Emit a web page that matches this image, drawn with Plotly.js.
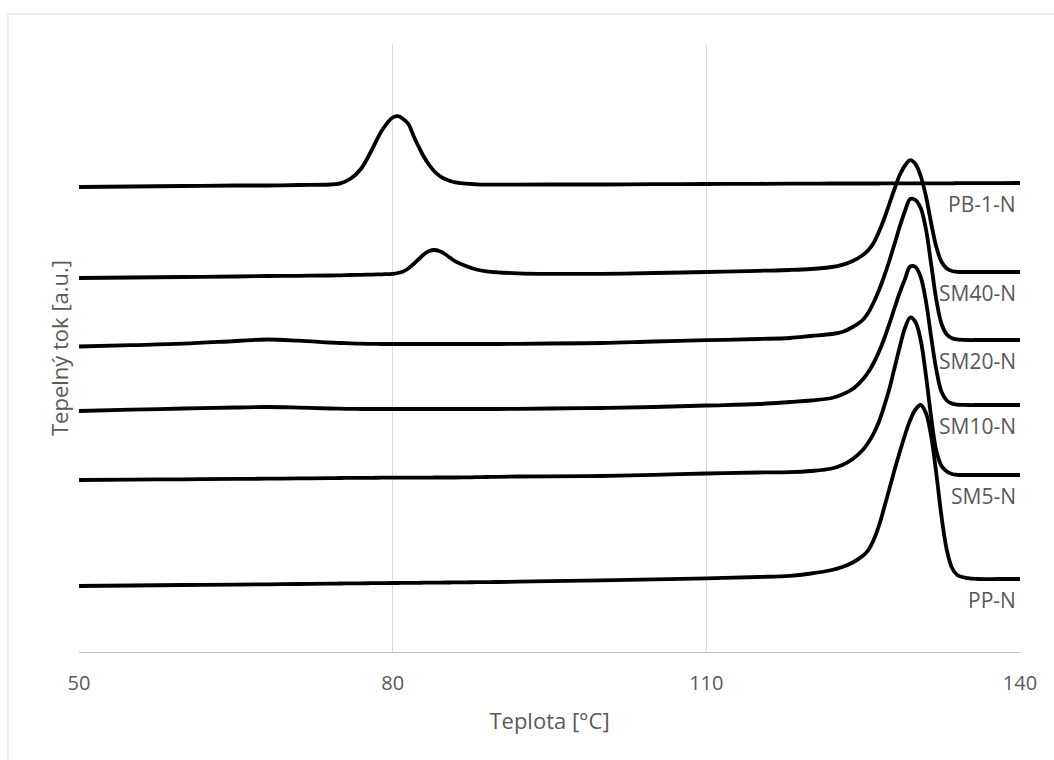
<!DOCTYPE html>
<html>
<head>
<meta charset="utf-8">
<script src="https://cdn.plot.ly/plotly-3.0.1.min.js"></script>
<style>
  html, body { margin: 0; padding: 0; background: #ffffff; }
  #chart { width: 1054px; height: 760px; }
</style>
</head>
<body>
<div id="chart"></div>
<script>
// DSC cooling curves, heat flow in arbitrary units, curves stacked vertically
const teplota = [50, 55, 60, 65, 68, 71, 74, 75, 76, 77, 78, 79, 80, 80.5, 81, 81.5, 82, 82.5, 83, 83.5,
  84, 84.5, 85, 85.5, 86, 87, 88, 89, 90, 92, 95, 100, 105, 110, 115, 118, 120, 122, 123, 124,
  125, 125.5, 126, 126.5, 127, 127.5, 128, 128.5, 129, 129.5, 130, 130.5, 131, 131.5, 132, 132.5, 133, 133.5, 134, 135,
  136, 138, 140];

const pb1N = [46.5, 46.55, 46.6, 46.65, 46.65, 46.7, 46.75, 46.87, 47.35, 48.35, 50.2, 52.2, 53.45, 53.58, 53.3, 52.8,
  51.6, 50.5, 49.5, 48.7, 48.05, 47.6, 47.3, 47.1, 46.97, 46.83, 46.77, 46.74, 46.74, 46.74, 46.75, 46.75,
  46.78, 46.8, 46.82, 46.84, 46.84, 46.85, 46.85, 46.85, 46.85, 46.85, 46.85, 46.85, 46.86, 46.86, 46.86, 46.86,
  46.86, 46.86, 46.86, 46.86, 46.87, 46.87, 46.87, 46.87, 46.87, 46.87, 46.88, 46.88, 46.88, 46.89, 46.9];

const sm40N = [37.4, 37.45, 37.5, 37.55, 37.6, 37.62, 37.65, 37.67, 37.7, 37.72, 37.74, 37.77, 37.82, 37.9, 38.05, 38.35,
  38.8, 39.3, 39.78, 40.1, 40.2, 40.08, 39.8, 39.42, 39.07, 38.6, 38.25, 38.06, 37.97, 37.87, 37.82, 37.82,
  37.9, 38.0, 38.12, 38.2, 38.3, 38.5, 38.72, 39.1, 39.72, 40.2, 40.9, 42.0, 43.3, 44.8, 46.3, 47.7,
  48.65, 49.18, 48.8, 47.6, 45.6, 42.9, 40.5, 39.0, 38.35, 38.1, 38.02, 38.0, 38.0, 38.0, 38.0];

const sm20N = [30.55, 30.68, 30.83, 31.1, 31.25, 31.13, 30.95, 30.9, 30.86, 30.83, 30.81, 30.8, 30.8, 30.8, 30.8, 30.8,
  30.8, 30.8, 30.8, 30.8, 30.8, 30.8, 30.8, 30.8, 30.8, 30.8, 30.8, 30.8, 30.8, 30.82, 30.85, 30.9,
  31.05, 31.18, 31.3, 31.4, 31.6, 31.8, 32.0, 32.5, 33.25, 33.95, 34.95, 36.15, 37.55, 39.1, 40.8, 42.55,
  44.1, 45.3, 45.2, 44.4, 42.3, 38.8, 35.2, 32.8, 31.75, 31.38, 31.26, 31.2, 31.2, 31.2, 31.2];

const sm10N = [24.1, 24.23, 24.35, 24.45, 24.5, 24.44, 24.35, 24.33, 24.31, 24.3, 24.3, 24.3, 24.3, 24.3, 24.3, 24.3,
  24.3, 24.3, 24.3, 24.3, 24.3, 24.3, 24.3, 24.3, 24.3, 24.3, 24.3, 24.3, 24.3, 24.32, 24.35, 24.4,
  24.5, 24.65, 24.8, 25.0, 25.15, 25.4, 25.75, 26.3, 27.3, 28.0, 28.9, 30.0, 31.3, 32.8, 34.4, 35.95,
  37.3, 38.55, 38.5, 37.5, 35.1, 31.5, 28.2, 26.0, 25.15, 24.84, 24.74, 24.7, 24.7, 24.7, 24.7];

const sm5N = [17.2, 17.24, 17.27, 17.31, 17.33, 17.36, 17.39, 17.4, 17.41, 17.42, 17.42, 17.43, 17.43, 17.43, 17.43, 17.44,
  17.44, 17.44, 17.44, 17.44, 17.45, 17.45, 17.45, 17.45, 17.45, 17.46, 17.48, 17.5, 17.52, 17.55, 17.57, 17.6,
  17.72, 17.85, 17.95, 17.98, 18.1, 18.35, 18.7, 19.3, 20.25, 20.95, 21.85, 23.0, 24.55, 26.3, 28.4, 30.5,
  32.4, 33.45, 33.0, 31.2, 27.7, 23.5, 20.1, 18.6, 18.05, 17.8, 17.72, 17.7, 17.7, 17.7, 17.7];

const ppN = [6.6, 6.65, 6.7, 6.74, 6.77, 6.8, 6.84, 6.85, 6.86, 6.87, 6.88, 6.89, 6.9, 6.9, 6.91, 6.91,
  6.92, 6.92, 6.93, 6.93, 6.94, 6.94, 6.95, 6.95, 6.96, 6.97, 6.98, 6.99, 7.0, 7.03, 7.08, 7.17,
  7.27, 7.37, 7.5, 7.62, 7.85, 8.2, 8.5, 8.95, 9.65, 10.2, 11.2, 12.6, 14.4, 16.3, 18.2, 20.0,
  21.7, 23.2, 24.25, 24.7, 23.9, 21.6, 17.8, 13.5, 10.2, 8.4, 7.7, 7.38, 7.3, 7.3, 7.3];

const nazvy = ['PB-1-N', 'SM40-N', 'SM20-N', 'SM10-N', 'SM5-N', 'PP-N'];
const krivky = [pb1N, sm40N, sm20N, sm10N, sm5N, ppN];
const xTicks = [50, 80, 110, 140];

const textColor = '#595959';
const gridColor = '#d9d9d9';
const fontFamily = '"Open Sans", "Noto Sans", sans-serif';

const traces = krivky.map((hodnoty, i) => ({
  type: 'scatter',
  mode: 'lines',
  name: nazvy[i],
  x: teplota,
  y: hodnoty,
  line: { color: '#000000', width: 3.8, shape: 'spline', smoothing: 1 },
  hoverinfo: 'skip'
}));

// series names placed just under the right end of each curve
const annotations = krivky.map((hodnoty, i) => ({
  x: teplota[teplota.length - 1],
  y: hodnoty[hodnoty.length - 1],
  xref: 'x',
  yref: 'y',
  text: nazvy[i],
  showarrow: false,
  xanchor: 'right',
  yanchor: 'middle',
  xshift: -2,
  yshift: -21,
  font: { family: fontFamily, size: 21, color: textColor }
}));

const layout = {
  width: 1054,
  height: 760,
  margin: { l: 79, r: 34, t: 44, b: 108 },
  paper_bgcolor: '#ffffff',
  plot_bgcolor: '#ffffff',
  showlegend: false,
  font: { family: fontFamily, color: textColor },
  xaxis: {
    range: [50, 140],
    tickmode: 'array',
    tickvals: xTicks,
    ticktext: xTicks.map(String),
    ticks: '',
    ticklabelstandoff: 13,
    tickfont: { family: fontFamily, size: 20, color: textColor },
    showgrid: true,
    gridcolor: gridColor,
    gridwidth: 1,
    zeroline: false,
    showline: true,
    linecolor: '#bfbfbf',
    linewidth: 1,
    title: { text: 'Teplota [°C]', font: { family: fontFamily, size: 22, color: textColor }, standoff: 18 }
  },
  yaxis: {
    range: [0, 60.8],
    showticklabels: false,
    ticks: '',
    showgrid: false,
    zeroline: false,
    showline: false,
    title: { text: 'Tepelný tok [a.u.]', font: { family: fontFamily, size: 22, color: textColor }, standoff: 3 }
  },
  shapes: [{
    type: 'rect',
    xref: 'paper',
    yref: 'paper',
    x0: -0.0755,
    x1: 1.0367,
    y0: -0.2,
    y1: 1.0493,
    line: { color: gridColor, width: 1 },
    fillcolor: 'rgba(0,0,0,0)',
    layer: 'below'
  }],
  annotations: annotations
};

Plotly.newPlot('chart', traces, layout, { displayModeBar: false, staticPlot: true });
</script>
</body>
</html>
